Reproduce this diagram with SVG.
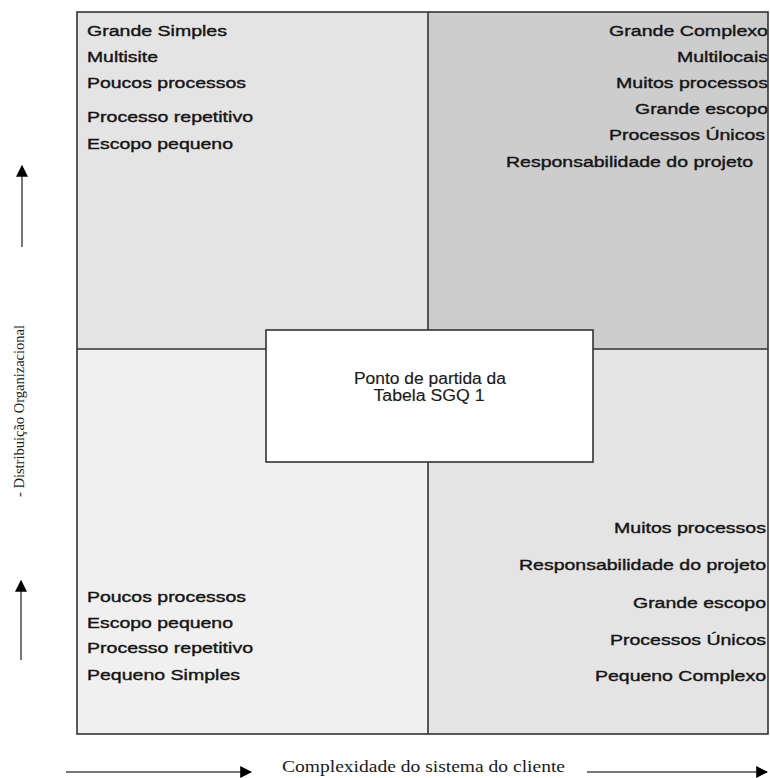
<svg xmlns="http://www.w3.org/2000/svg" width="770" height="778" viewBox="0 0 770 778">
<style>
.q{font-family:"Liberation Sans",Arial,sans-serif;font-size:15.5px;fill:#151515;stroke:#151515;stroke-width:0.4}
.r{text-anchor:end}
.c{font-family:"Liberation Sans",Arial,sans-serif;font-size:16px;fill:#1a1a1a;stroke:#1a1a1a;stroke-width:0.15;text-anchor:middle}
.ax{font-family:"Liberation Serif","Times New Roman",serif;fill:#1a1a1a}
.ln{stroke:#333;stroke-width:1.6;fill:none}
.sh{stroke:#777;stroke-width:2;fill:none}
</style>
<defs>
<marker id="ah" viewBox="0 0 10 10" refX="9" refY="5" markerWidth="6" markerHeight="6" orient="auto" markerUnits="strokeWidth">
<path d="M0,0 L10,5 L0,10 Z" fill="#000"/>
</marker>
</defs>
<rect width="770" height="778" fill="#fff"/>
<g id="quad-tl">
<rect x="77" y="12" width="351" height="337" fill="#e4e4e4"/>
<text class="q" x="87" y="36" textLength="140" lengthAdjust="spacingAndGlyphs">Grande Simples</text>
<text class="q" x="87" y="62" textLength="71" lengthAdjust="spacingAndGlyphs">Multisite</text>
<text class="q" x="87" y="88" textLength="159" lengthAdjust="spacingAndGlyphs">Poucos processos</text>
<text class="q" x="87" y="122" textLength="166" lengthAdjust="spacingAndGlyphs">Processo repetitivo</text>
<text class="q" x="87" y="149" textLength="146" lengthAdjust="spacingAndGlyphs">Escopo pequeno</text>
</g>
<g id="quad-tr">
<rect x="428" y="12" width="340" height="337" fill="#cdcdcd"/>
<text class="q r" x="768" y="36" textLength="159" lengthAdjust="spacingAndGlyphs">Grande Complexo</text>
<text class="q r" x="768" y="62" textLength="91" lengthAdjust="spacingAndGlyphs">Multilocais</text>
<text class="q r" x="768" y="88" textLength="152" lengthAdjust="spacingAndGlyphs">Muitos processos</text>
<text class="q r" x="768" y="114" textLength="133" lengthAdjust="spacingAndGlyphs">Grande escopo</text>
<text class="q r" x="765" y="140" textLength="156" lengthAdjust="spacingAndGlyphs">Processos Únicos</text>
<text class="q r" x="753" y="167" textLength="247" lengthAdjust="spacingAndGlyphs">Responsabilidade do projeto</text>
</g>
<g id="quad-bl">
<rect x="77" y="349" width="351" height="385" fill="#f0f0f0"/>
<text class="q" x="87" y="602" textLength="159" lengthAdjust="spacingAndGlyphs">Poucos processos</text>
<text class="q" x="87" y="628" textLength="146" lengthAdjust="spacingAndGlyphs">Escopo pequeno</text>
<text class="q" x="87" y="653" textLength="166" lengthAdjust="spacingAndGlyphs">Processo repetitivo</text>
<text class="q" x="87" y="680" textLength="153" lengthAdjust="spacingAndGlyphs">Pequeno Simples</text>
</g>
<g id="quad-br">
<rect x="428" y="349" width="340" height="385" fill="#e4e4e4"/>
<text class="q r" x="766" y="533" textLength="152" lengthAdjust="spacingAndGlyphs">Muitos processos</text>
<text class="q r" x="766" y="570" textLength="247" lengthAdjust="spacingAndGlyphs">Responsabilidade do projeto</text>
<text class="q r" x="766" y="608" textLength="133" lengthAdjust="spacingAndGlyphs">Grande escopo</text>
<text class="q r" x="766" y="645" textLength="156" lengthAdjust="spacingAndGlyphs">Processos Únicos</text>
<text class="q r" x="766" y="681" textLength="171" lengthAdjust="spacingAndGlyphs">Pequeno Complexo</text>
</g>
<g id="grid">
<line class="ln" x1="428" y1="12" x2="428" y2="734"/>
<line class="ln" x1="77" y1="349" x2="768" y2="349"/>
<rect class="ln" x="77" y="12" width="691" height="722"/>
</g>
<g id="center">
<rect x="266" y="330" width="327" height="132" fill="#fff" stroke="#333" stroke-width="1.6"/>
<text class="c" x="430" y="384" textLength="152" lengthAdjust="spacingAndGlyphs">Ponto de partida da</text>
<text class="c" x="429" y="401" textLength="111" lengthAdjust="spacingAndGlyphs">Tabela SGQ 1</text>
</g>
<g id="connectors">
<line class="sh" x1="22" y1="247" x2="22" y2="166" marker-end="url(#ah)"/>
<line class="sh" x1="21" y1="660" x2="21" y2="581" marker-end="url(#ah)"/>
<line class="sh" x1="66" y1="772" x2="251" y2="772" marker-end="url(#ah)"/>
<line class="sh" x1="587" y1="772" x2="767" y2="772" marker-end="url(#ah)"/>
</g>
<g id="axis-labels">
<text class="ax" font-size="14" transform="translate(24,497) rotate(-90)" textLength="172" lengthAdjust="spacingAndGlyphs">- Distribuição Organizacional</text>
<text class="ax" font-size="16" x="282" y="772" textLength="283" lengthAdjust="spacingAndGlyphs">Complexidade do sistema do cliente</text>
</g>
</svg>
